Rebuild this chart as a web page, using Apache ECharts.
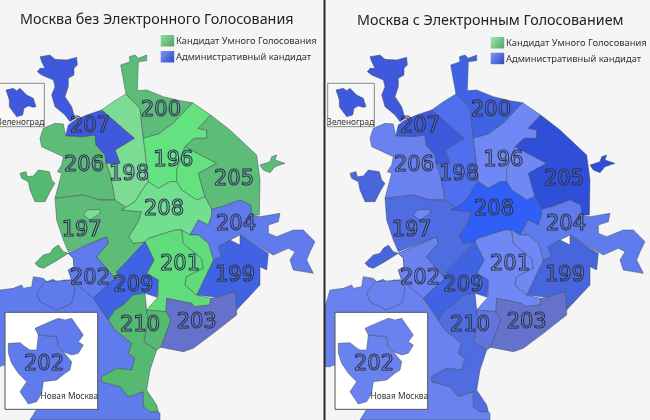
<!DOCTYPE html>
<html><head><meta charset="utf-8">
<style>html,body{margin:0;padding:0;background:#f5f5f5}#c{width:650px;height:420px}</style>
<script src="https://cdn.jsdelivr.net/npm/echarts@6/dist/echarts.min.js"></script>
</head><body><div id="c"></div>
<script>
const titles = ['Москва без Электронного Голосования','Москва с Электронным Голосованием'];
const legendNames = ['Кандидат Умного Голосования','Административный кандидат'];
const insetNames = ['Зеленоград','Новая Москва'];
const labelled = ['200','198','196','205','204','199','201','203','210','209','202','197','206','207','208','202i'];

// shade levels: negative = smart-vote candidate leads, positive = administrative candidate leads
const shadeLevels = [
 [-20,'#63e27f'],[-18,'#60dc7b'],[-16,'#72df8e'],[-14,'#7ddc93'],[-10,'#5dbc78'],[-8,'#55b971'],
 [2,'#6f88f5'],[3,'#6a82f0'],[4,'#5f7bec'],[5,'#5f74dc'],[6,'#6472cc'],[7,'#4f6fee'],[8,'#4f6de0'],
 [9,'#4866dc'],[10,'#3f63e2'],[11,'#3f59dc'],[12,'#2f5ff8'],[13,'#2f4fd8']
];
const regionNames = ['202','202b','202c','206','206x','197','206p','197x','198','207','207n','Z','200','196','196e','205','205x','208','204','199','201','201e','209','203','210','210b','202i','202j'];
const leftMargins  = [4,4,4,-10,-8,-10,-14,-8,-14,11,11,11,-10,-20,-20,-10,-10,-16,4,10,-18,-18,10,6,-8,-8,4,4];
const rightMargins = [3,3,3,3,9,8,2,9,7,11,11,11,10,2,2,13,13,12,4,9,2,2,10,6,8,5,3,3];
const labelPoints = {'200':[483,333],'198':[387,523],'196':[520,482],'205':[702,540],'204':[708,675],'199':[705,828],'201':[540,795],'203':[590,968],'210':[420,978],'209':[400,856],'202':[270,835],'197':[245,692],'206':[252,498],'207':[270,380],'208':[492,628],'202i':[132,1095]};
const regionShapes = {
'202':[[-15,920],[0,870],[40,865],[65,855],[70,865],[95,860],[100,830],[130,835],[140,845],[160,838],[175,850],[190,840],[215,840],[205,810],[222,800],[220,775],[205,760],[320,710],[325,730],[290,770],[345,835],[280,895],[325,960],[345,990],[395,1030],[385,1060],[405,1075],[395,1110],[350,1105],[305,1130],[305,1145],[360,1160],[385,1190],[430,1175],[430,1220],[450,1235],[475,1235],[480,1240],[480,1260],[90,1260],[110,1228],[20,1100],[10,1095],[0,1100],[-15,1100]],
'202b':[[135,845],[110,880],[120,905],[170,930],[215,910],[225,870],[215,840]],
'202c':[[205,760],[320,710],[325,730],[290,770],[345,835],[280,895],[215,840],[205,810],[222,800],[220,775]],
'206':[[120,415],[130,385],[165,370],[190,372],[197,407],[245,410],[285,405],[288,435],[315,465],[318,490],[330,520],[340,570],[345,600],[300,600],[250,585],[165,595],[185,520],[172,515],[185,495],[190,470],[125,440]],
'206x':[[60,520],[78,515],[82,530],[100,528],[115,510],[148,515],[155,540],[165,550],[150,575],[135,605],[105,605],[90,570],[85,545],[65,535]],
'206p':[[262,630],[300,628],[300,640],[270,660],[250,645]],
'197':[[165,595],[250,585],[300,600],[345,600],[375,620],[365,630],[425,635],[415,665],[387,710],[400,730],[435,725],[375,790],[350,815],[360,840],[345,835],[290,770],[325,730],[320,710],[205,755],[190,720],[170,660]],
'197x':[[105,790],[130,765],[150,760],[160,745],[175,735],[190,755],[205,760],[165,785],[130,805],[115,800]],
'198':[[305,330],[340,305],[378,282],[420,325],[430,415],[435,450],[445,545],[430,565],[405,605],[365,630],[375,620],[345,600],[340,570],[330,520],[318,490],[360,490],[345,450],[403,415]],
'207':[[305,330],[403,415],[345,450],[360,490],[318,490],[315,465],[288,435],[285,405],[245,410],[197,407],[205,375],[225,360],[260,345]],
'207n':[[120,170],[150,165],[165,178],[200,180],[230,172],[232,195],[222,205],[222,225],[205,235],[205,260],[195,290],[215,320],[225,355],[210,365],[195,345],[165,320],[155,285],[165,260],[160,240],[125,225],[112,215],[120,205],[135,205],[125,185]],
'Z':[[18,270],[40,265],[50,272],[60,265],[80,285],[100,295],[108,320],[100,322],[85,318],[72,325],[68,345],[50,350],[28,320],[28,300]],
'200':[[362,195],[390,185],[388,170],[405,165],[415,175],[440,165],[440,182],[415,185],[412,272],[440,270],[490,290],[540,302],[578,308],[520,370],[475,402],[430,415],[420,325],[378,282]],
'196':[[430,415],[475,402],[520,370],[578,308],[632,345],[595,385],[620,390],[620,415],[582,415],[555,440],[530,510],[530,545],[510,545],[475,565],[445,545],[435,450]],
'196e':[[555,440],[650,490],[595,520],[615,590],[590,600],[545,570],[530,545],[530,510]],
'205':[[632,345],[690,390],[770,465],[780,540],[778,645],[755,645],[752,615],[720,600],[665,620],[635,628],[615,590],[595,520],[650,490],[555,440],[582,415],[620,415],[620,390],[595,385]],
'205x':[[780,495],[810,485],[815,470],[830,465],[825,480],[855,490],[825,500],[810,518],[790,510]],
'208':[[365,630],[405,605],[430,565],[445,545],[475,565],[510,545],[530,545],[545,570],[590,600],[615,590],[635,628],[635,645],[625,675],[595,660],[570,705],[545,690],[525,690],[445,715],[435,725],[400,730],[387,710],[415,665],[425,635]],
'204':[[635,628],[665,620],[720,600],[752,615],[755,645],[780,650],[840,640],[835,665],[805,675],[805,700],[830,710],[880,690],[910,690],[945,725],[930,755],[920,780],[940,820],[880,810],[870,780],[885,755],[865,745],[820,765],[720,705],[690,720],[655,740],[665,770],[640,780],[625,730],[595,705],[570,705],[595,660],[625,675],[635,645]],
'199':[[720,705],[805,760],[800,810],[780,800],[780,855],[710,930],[705,875],[650,892],[590,885],[640,780],[665,770],[655,740],[690,720],[720,735]],
'201':[[445,715],[525,690],[545,690],[550,730],[605,775],[610,805],[560,830],[555,855],[590,885],[632,895],[630,915],[585,920],[575,910],[500,895],[498,935],[440,930],[475,890],[472,840],[440,820],[462,780],[435,725]],
'201e':[[545,690],[570,705],[595,705],[625,730],[640,780],[590,885],[555,855],[560,830],[610,805],[605,775],[550,730]],
'209':[[435,725],[462,780],[440,820],[475,840],[472,892],[435,880],[400,885],[370,915],[345,930],[325,960],[280,895],[345,835],[360,840],[350,815],[375,790]],
'203':[[500,895],[575,910],[585,920],[630,915],[632,895],[650,892],[705,875],[710,930],[710,945],[640,1000],[580,1045],[550,1055],[482,1042],[512,960],[498,935]],
'210':[[345,930],[370,915],[400,885],[435,880],[440,930],[445,960],[432,1025],[470,1050],[450,1110],[440,1170],[470,1215],[475,1235],[450,1235],[430,1220],[430,1175],[385,1190],[360,1160],[305,1145],[305,1130],[350,1105],[395,1110],[405,1075],[385,1060],[395,1030],[345,990],[325,960]],
'210b':[[440,930],[498,935],[512,960],[482,1042],[470,1050],[432,1025],[445,960]],
'202i':[[25,1030],[60,1028],[75,1040],[90,1050],[110,1050],[115,1005],[170,1010],[175,1040],[190,1055],[215,1085],[210,1110],[195,1120],[170,1140],[130,1145],[125,1180],[110,1205],[85,1212],[60,1175],[80,1145],[55,1120],[35,1090],[25,1060]],
'202j':[[105,985],[150,965],[175,955],[195,960],[215,955],[250,1005],[235,1025],[250,1035],[235,1060],[215,1065],[190,1055],[175,1040],[170,1010],[115,1005]]
};
const extentShape = [[-15,0],[975,0],[975,1260],[-15,1260]];
const zelFrame = [[-7,250],[133,250],[133,380],[-7,380]];
const newFrame = [[15,937],[293,937],[293,1228],[15,1228]];

function feat(name, ring, cp){
  const props = {name}; if (cp) props.cp = cp;
  return {type:'Feature',properties:props,geometry:{type:'Polygon',coordinates:[ring.concat([ring[0]])]}};
}
// paint order: extent, the city, frames, then inset shapes
const behind = regionNames.filter(n=>n!=='Z'&&n!=='202i'&&n!=='202j');
const features = [feat('extent',extentShape)]
  .concat(behind.map(n=>feat(n,regionShapes[n],labelPoints[n])))
  .concat([feat(insetNames[0],zelFrame,[62,367]),feat(insetNames[1],newFrame,[208,1190])])
  .concat(['Z','202i','202j'].map(n=>feat(n,regionShapes[n],labelPoints[n])));
const geoSource = {type:'FeatureCollection',features};
echarts.registerMap('mskLeft',JSON.parse(JSON.stringify(geoSource)));
echarts.registerMap('mskRight',JSON.parse(JSON.stringify(geoSource)));

function itemsFor(values){
  const items = regionNames.map((n,i)=>({name:n,value:values[i],
     label:{show:labelled.indexOf(n)>=0}}));
  items.push({name:'extent',itemStyle:{areaColor:'rgba(0,0,0,0)',borderWidth:0},label:{show:false}});
  items.push({name:insetNames[0],itemStyle:{areaColor:'#f7f7f7',borderColor:'#8a8a8a',borderWidth:1},
     label:{show:true,fontSize:8.3,color:'#333',textBorderWidth:0,fontFamily:'"Noto Sans"'}});
  items.push({name:insetNames[1],itemStyle:{areaColor:'#ffffff',borderColor:'#555',borderWidth:1},
     label:{show:true,fontSize:8.3,color:'#333',textBorderWidth:0,fontFamily:'"Noto Sans"'}});
  return items;
}
const identity = {project:p=>p,unproject:p=>p};
function mapSeries(mapName,values,left){
  return {type:'map',map:mapName,projection:identity,left:left,top:0,width:330,height:420,roam:false,silent:true,
    selectedMode:false,
    itemStyle:{borderColor:'rgba(60,70,80,0.65)',borderWidth:0.7},
    label:{show:false,fontFamily:'"DejaVu Sans"',fontSize:21,color:'rgba(255,255,255,0.12)',
      textBorderColor:'#1c2444',textBorderWidth:1.1,
      formatter:p=>insetNames.indexOf(p.name)>=0?p.name:p.name.slice(0,3)},
    emphasis:{disabled:true},
    data:itemsFor(values)};
}
function swatch(x,y,a,b){return {type:'rect',shape:{x,y,width:13.5,height:11.5},z:20,
  style:{fill:new echarts.graphic.LinearGradient(0,0,1,1,[{offset:0,color:a},{offset:1,color:b}])}};}
function txt(x,y,s){return {type:'text',x,y,z:20,style:{text:s,fontSize:9.4,fontFamily:'"Noto Sans"',fill:'#333',verticalAlign:'middle'}};}
const chart = echarts.init(document.getElementById('c'),null,{renderer:'canvas'});
chart.setOption({
  animation:false,backgroundColor:'#f5f5f5',
  title:[
   {text:titles[0],left:20,top:13,textStyle:{fontFamily:'"Noto Sans"',fontSize:14.3,fontWeight:'normal',color:'#222'},padding:0},
   {text:titles[1],left:357,top:14,textStyle:{fontFamily:'"Noto Sans"',fontSize:14.3,fontWeight:'normal',color:'#222'},padding:0}
  ],
  visualMap:{show:false,type:'piecewise',seriesIndex:[0,1],
    pieces:shadeLevels.map(l=>({value:l[0],color:l[1]}))},
  graphic:[
    swatch(160.7,35,'#8fdc9c','#4fa468'),swatch(160.7,51,'#8098f0','#2c47c8'),
    txt(176,41,legendNames[0]),txt(176,57,legendNames[1]),
    swatch(490.7,37,'#a6e6ae','#4fa468'),swatch(490.7,52.7,'#8098f0','#2c47c8'),
    txt(506,43.5,legendNames[0]),txt(506,59,legendNames[1]),
    {type:'rect',shape:{x:323.5,y:0,width:2,height:420},z:30,style:{fill:'#2b2b2b'}}
  ],
  series:[mapSeries('mskLeft',leftMargins,-5),mapSeries('mskRight',rightMargins,325)]
});
</script></body></html>
